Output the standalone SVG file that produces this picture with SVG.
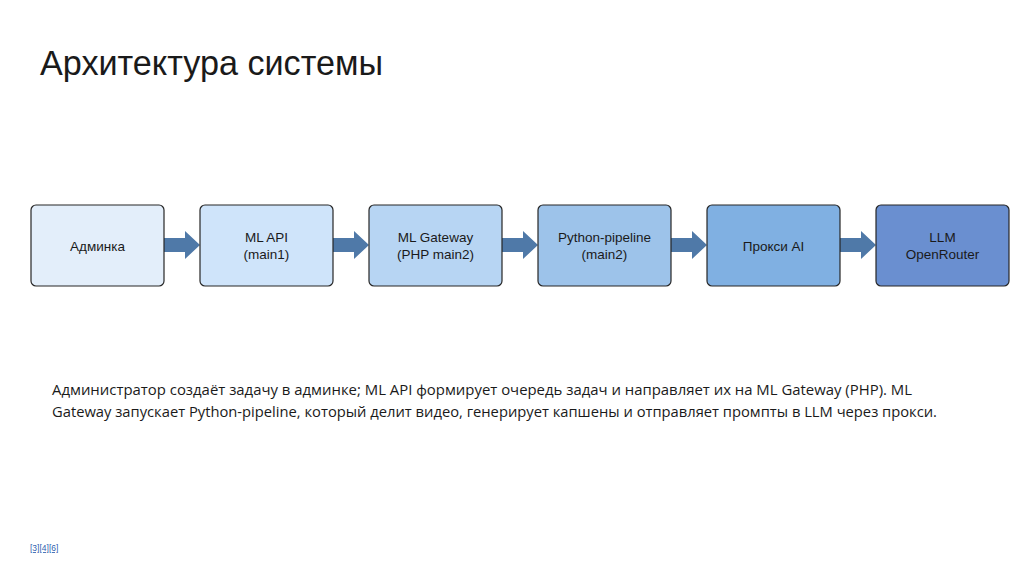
<svg xmlns="http://www.w3.org/2000/svg" width="1024" height="576" viewBox="0 0 1024 576">
<style>
.box{stroke:#262626;stroke-width:1.2}
.lbl{font-family:"Liberation Sans",Arial,sans-serif;font-size:13.5px;fill:#1a1a1a;text-anchor:middle}
.arr{fill:#4f79a8}
.desc{font-family:"Open Sans","Liberation Sans",sans-serif;font-size:15px;fill:#1a1a1a}
</style>
<rect width="1024" height="576" fill="#ffffff"/>
<text x="40" y="75" font-family="Liberation Sans,Arial,sans-serif" font-size="35" fill="#1a1a1a" textLength="343" lengthAdjust="spacingAndGlyphs">Архитектура системы</text>
<g id="connectors">
<path class="arr" d="M164,238 H185 V231 L200,245 L185,259 V252 H164 Z"/>
<path class="arr" d="M333,238 H354 V231 L369,245 L354,259 V252 H333 Z"/>
<path class="arr" d="M502,238 H523 V231 L538,245 L523,259 V252 H502 Z"/>
<path class="arr" d="M671,238 H692 V231 L707,245 L692,259 V252 H671 Z"/>
<path class="arr" d="M840,238 H861 V231 L876,245 L861,259 V252 H840 Z"/>
</g>
<g id="n1"><rect class="box" x="31" y="205" width="133" height="81" rx="5" fill="#e3eefa"/><text class="lbl" x="97.5" y="251">Админка</text></g>
<g id="n2"><rect class="box" x="200" y="205" width="133" height="81" rx="5" fill="#cfe4fa"/><text class="lbl" x="266.5" y="242">ML API</text><text class="lbl" x="266.5" y="259">(main1)</text></g>
<g id="n3"><rect class="box" x="369" y="205" width="133" height="81" rx="5" fill="#b7d5f3"/><text class="lbl" x="435.5" y="242">ML Gateway</text><text class="lbl" x="435.5" y="259">(PHP main2)</text></g>
<g id="n4"><rect class="box" x="538" y="205" width="133" height="81" rx="5" fill="#9dc3ea"/><text class="lbl" x="604.5" y="242">Python-pipeline</text><text class="lbl" x="604.5" y="259">(main2)</text></g>
<g id="n5"><rect class="box" x="707" y="205" width="133" height="81" rx="5" fill="#80b0e2"/><text class="lbl" x="773.5" y="251">Прокси AI</text></g>
<g id="n6"><rect class="box" x="876" y="205" width="133" height="81" rx="5" fill="#6a8fd0"/><text class="lbl" x="942.5" y="242">LLM</text><text class="lbl" x="942.5" y="259">OpenRouter</text></g>
<text class="desc" x="52" y="395" textLength="860" lengthAdjust="spacingAndGlyphs">Администратор создаёт задачу в админке; ML API формирует очередь задач и направляет их на ML Gateway (PHP). ML</text>
<text class="desc" x="52" y="417" textLength="885" lengthAdjust="spacingAndGlyphs">Gateway запускает Python-pipeline, который делит видео, генерирует капшены и отправляет промпты в LLM через прокси.</text>
<text x="30" y="551" font-family="Liberation Sans,Arial,sans-serif" font-size="8.5" fill="#2f5fb0" text-decoration="underline">[3][4][6]</text>
</svg>
